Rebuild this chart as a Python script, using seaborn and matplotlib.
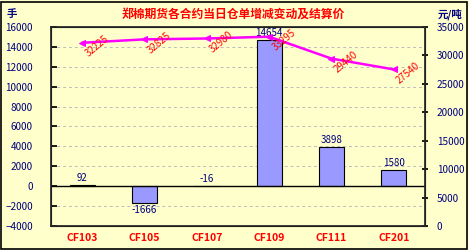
import matplotlib
matplotlib.use("Agg")
import matplotlib.pyplot as plt
import seaborn as sns
import pandas as pd
from matplotlib.patches import Rectangle

sns.set_theme(style="white")
plt.rcParams['font.family'] = ['Noto Sans CJK SC', 'DejaVu Sans']

categories = ["CF103", "CF105", "CF107", "CF109", "CF111", "CF201"]
warrant_change = [92, -1666, -16, 14654, 3898, 1580]
settle_price = [32225, 32825, 32980, 33295, 29440, 27540]
left_ticks = list(range(-4000, 16001, 2000))
right_ticks = list(range(0, 35001, 5000))

bg = "#FFFFCC"
navy = "#000080"
red = "#FF0000"

df = pd.DataFrame({"cat": categories, "chg": warrant_change, "price": settle_price})

fig = plt.figure(figsize=(4.69, 2.5), dpi=100, facecolor=bg)
ax = fig.add_axes([51/469, 24/250, 374/469, 199/250])
ax.set_facecolor(bg)

sns.barplot(data=df, x="cat", y="chg", ax=ax, color="#9999FF", width=0.4,
            edgecolor="black", linewidth=0.8, saturation=1)
ax.set_ylim(-4000, 16000)
ax.set_xlim(-0.5, 5.5)
ax.set_yticks(left_ticks)
for t in left_ticks:
    if t != 0:
        ax.axhline(t, color="#BBBBBB", linestyle=(0, (3, 3)), linewidth=0.7, zorder=0)
ax.axhline(0, color="black", linewidth=1.0, zorder=3)
ax.set_xlabel("")
ax.set_ylabel("")
ax.tick_params(axis="y", labelsize=7.2, labelcolor=navy, direction="in", length=4,
               pad=13, color="black", left=True)
ax.tick_params(axis="x", labelsize=7.5, labelcolor=red, length=0, pad=5)
for lab in ax.get_xticklabels():
    lab.set_fontweight("bold")
for s in ax.spines.values():
    s.set_color("black")
    s.set_linewidth(0.8)

for i, v in enumerate(warrant_change):
    if v < -100:
        ax.text(i, v - 250, str(v), ha="center", va="top", fontsize=7, color=navy)
    else:
        ax.text(i, max(v, 0) + 250, str(v), ha="center", va="bottom", fontsize=7, color=navy)

ax2 = ax.twinx()
sns.lineplot(data=df, x="cat", y="price", ax=ax2, color="#FF00FF", linewidth=1.8,
             marker="<", markersize=5, markeredgecolor="#FF00FF", sort=False)
ax2.set_ylim(0, 35000)
ax2.set_yticks(right_ticks)
ax2.set_ylabel("")
ax2.tick_params(axis="y", labelsize=7.2, labelcolor=navy, direction="inout", length=5,
                pad=6, color="black", right=True)
ax2.grid(False)
for i, v in enumerate(settle_price):
    ax2.text(i + 0.12, v - 2800, str(v), ha="left", va="bottom", fontsize=7, color=red,
             rotation=40, rotation_mode="anchor")

fig.text(233/469, 1 - 14/250, "郑棉期货各合约当日仓单增减变动及结算价", ha="center",
         va="center", fontsize=8.5, color=red, fontweight="bold")
fig.text(7/469, 1 - 14/250, "手", ha="left", va="center", fontsize=7.5, color=navy,
         fontweight="bold")
fig.text(462/469, 1 - 14/250, "元/吨", ha="right", va="center", fontsize=7.5, color=navy,
         fontweight="bold")
fig.patches.append(Rectangle((0.002, 0.004), 0.994, 0.99, transform=fig.transFigure,
                             fill=False, edgecolor="black", linewidth=1.2))

fig.savefig("out.png", dpi=100, facecolor=bg)
